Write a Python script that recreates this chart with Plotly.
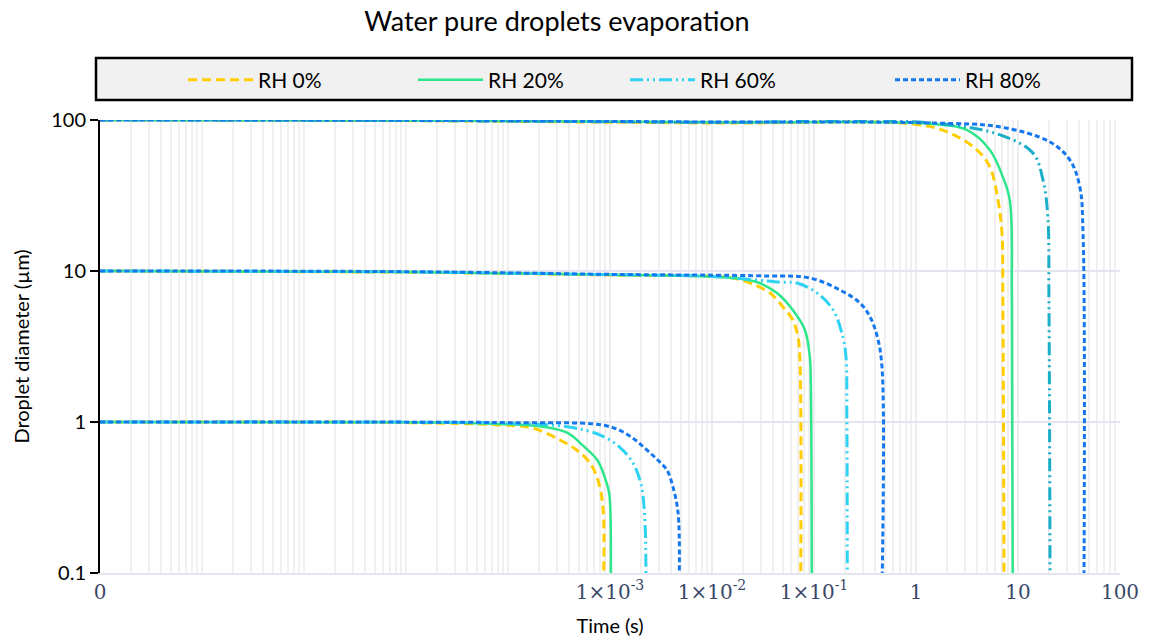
import plotly.graph_objects as go

# ---------------- data ----------------
# Time (s) and droplet diameter (µm) for each relative humidity / initial size
T_RH0_1 = [1e-8, 1e-5, 1e-4, 1.76e-4, 3.23e-4, 4.75e-4, 6.37e-4, 7.63e-4, 8.54e-4, 8.67e-4]
D_RH0_1 = [1.0, 0.99, 0.95, 0.91, 0.76, 0.65, 0.535, 0.41, 0.27, 0.1]
T_RH0_10 = [1e-8, 1e-5, 1e-3, 1.57e-2, 2.35e-2, 3.7e-2, 4.96e-2, 6.2e-2, 6.97e-2, 7.28e-2, 7.42e-2]
D_RH0_10 = [10, 9.8, 9.4, 9.0, 8.33, 7.15, 5.78, 4.73, 3.65, 2.57, 0.1]
T_RH0_100 = [1e-8, 1e-5, 1e-2, 1.02, 2.15, 3.96, 5.3, 6.36, 6.96, 7.1, 7.29]
D_RH0_100 = [100, 99, 95.5, 93.5, 82, 63.3, 48.9, 29.5, 17.9, 6.43, 0.1]

T_RH20_1 = [1e-8, 1e-5, 8.4e-5, 2.2e-4, 3.8e-4, 5.4e-4, 7.5e-4, 8.9e-4, 9.8e-4, 1.01e-3, 1.02e-3]
D_RH20_1 = [1.0, 0.995, 0.97, 0.93, 0.85, 0.70, 0.56, 0.43, 0.34, 0.25, 0.1]
T_RH20_10 = [1e-8, 1e-5, 1e-3, 1.6e-2, 2.76e-2, 4.34e-2, 6.2e-2, 8.15e-2, 9.1e-2, 9.3e-2, 9.5e-2]
D_RH20_10 = [10, 9.85, 9.45, 8.99, 8.45, 7.15, 5.52, 4.07, 2.69, 1.81, 0.1]
T_RH20_100 = [1e-8, 1e-5, 1e-2, 1.46, 3.15, 5.3, 7.1, 8.3, 8.7, 8.87]
D_RH20_100 = [100, 99.2, 96.5, 94.1, 85.9, 63.3, 42, 29.5, 6.43, 0.1]

T_RH60_1 = [1e-8, 1e-5, 1e-4, 3.8e-4, 8.0e-4, 1.25e-3, 1.68e-3, 1.97e-3, 2.11e-3, 2.22e-3, 2.25e-3]
D_RH60_1 = [1.0, 0.998, 0.98, 0.93, 0.82, 0.68, 0.535, 0.41, 0.32, 0.19, 0.1]
T_RH60_10 = [1e-8, 1e-5, 1e-3, 1e-2, 4.64e-2, 6.8e-2, 0.107, 0.154, 0.192, 0.206, 0.21, 0.212]
D_RH60_10 = [10, 9.85, 9.45, 9.2, 8.45, 8.33, 7.15, 5.52, 3.65, 2.69, 1.08, 0.1]
T_RH60_100 = [1e-8, 1e-5, 1e-2, 1.46, 6.7, 14.0, 17.6, 19.6, 20.1, 20.6]
D_RH60_100 = [100, 99.2, 96.5, 95.5, 79.6, 60.4, 40, 22.8, 6.43, 0.1]

T_RH80_1 = [1e-8, 1e-5, 1e-4, 8.0e-4, 1.25e-3, 1.68e-3, 2.1e-3, 2.64e-3, 3.1e-3, 3.62e-3, 4.15e-3, 4.65e-3, 4.78e-3]
D_RH80_1 = [1.0, 0.998, 0.99, 0.96, 0.88, 0.78, 0.69, 0.60, 0.54, 0.48, 0.37, 0.25, 0.1]
T_RH80_10 = [1e-8, 1e-5, 1e-3, 3.45e-2, 9.1e-2, 0.18, 0.282, 0.355, 0.418, 0.464, 0.467]
D_RH80_10 = [10, 9.9, 9.5, 9.27, 8.99, 7.48, 6.14, 4.96, 3.65, 2.32, 0.1]
T_RH80_100 = [1e-8, 1e-5, 1e-2, 1.46, 6.7, 20.6, 32.3, 40.4, 43.4, 44.4]
D_RH80_100 = [100, 99.5, 97, 95.5, 89.9, 71.5, 54.3, 36, 17.9, 0.1]

SERIES_NAMES = ["RH 0%", "RH 20%", "RH 60%", "RH 80%"]
X_TICK_VALS = [1e-8, 1e-3, 1e-2, 1e-1, 1, 10, 100]
X_TICK_TEXT = ["0", "1×10<sup>-3</sup>", "1×10<sup>-2</sup>", "1×10<sup>-1</sup>", "1", "10", "100"]
Y_TICK_VALS = [0.1, 1, 10, 100]
Y_TICK_TEXT = ["0.1", "1", "10", "100"]

# ---------------- styling ----------------
styles = {
    "RH 0%": dict(color="#FFCD00", dash="9px,5px", width=3),
    "RH 20%": dict(color="#2DE68A", dash="solid", width=2.5),
    "RH 60%": dict(color="#2ED2F2", dash="13px,4px,2px,4px,2px,4px", width=3),
    "RH 80%": dict(color="#1578EE", dash="5px,3px", width=3),
}
legend_ids = {"RH 0%": "legend", "RH 20%": "legend2", "RH 60%": "legend3", "RH 80%": "legend4"}

curves = [
    ("RH 0%", T_RH0_1, D_RH0_1, None), ("RH 0%", T_RH0_10, D_RH0_10, None), ("RH 0%", T_RH0_100, D_RH0_100, None),
    ("RH 20%", T_RH20_1, D_RH20_1, None), ("RH 20%", T_RH20_10, D_RH20_10, None), ("RH 20%", T_RH20_100, D_RH20_100, None),
    ("RH 60%", T_RH60_1, D_RH60_1, None), ("RH 60%", T_RH60_10, D_RH60_10, None), ("RH 60%", T_RH60_100, D_RH60_100, "#1AAEC9"),
    ("RH 80%", T_RH80_1, D_RH80_1, None), ("RH 80%", T_RH80_10, D_RH80_10, None), ("RH 80%", T_RH80_100, D_RH80_100, None),
]

fig = go.Figure()
shown = set()
for name, t, d, col in curves:
    st = styles[name]
    fig.add_trace(go.Scatter(
        x=t, y=d, mode="lines", name=name, legendgroup=name,
        legend=legend_ids[name],
        showlegend=name not in shown,
        line=dict(color=col or st["color"], dash=st["dash"], width=st["width"], shape="spline", smoothing=1.0),
        cliponaxis=True,
    ))
    shown.add(name)

# ---------------- layout ----------------
L, R, T, B = 100, 32, 120, 68
W, H = 1152, 641
pw, ph = W - L - R, H - T - B

def px_x(p):
    return (p - L) / pw

def px_y(p):
    return (H - B - p) / ph

SANS = "Lato, 'Open Sans', sans-serif"
legend_font = dict(family=SANS, size=21, color="#000")
ITEM_W = 65
text_starts = [258, 488, 700, 965]
layout_legends = {}
for lid, tx in zip(["legend", "legend2", "legend3", "legend4"], text_starts):
    layout_legends[lid] = dict(
        x=px_x(tx - 40 - (ITEM_W - 30)), y=px_y(80), xanchor="left", yanchor="middle",
        orientation="h", bgcolor="rgba(0,0,0,0)", borderwidth=0,
        font=legend_font, itemwidth=ITEM_W,
    )

minor_vals = [m * 10 ** e for e in range(-8, 2) for m in range(1, 10)]

fig.update_layout(
    width=W, height=H,
    margin=dict(l=L, r=R, t=T, b=B, autoexpand=False),
    paper_bgcolor="white", plot_bgcolor="white",
    font=dict(family=SANS, color="#000"),
    title=dict(text="Water pure droplets evaporation", x=557 / W, xref="container",
               y=1 - 22 / H, yref="container", xanchor="center", yanchor="middle",
               font=dict(family=SANS, size=27, color="#000")),
    **layout_legends,
    shapes=[dict(type="rect", xref="paper", yref="paper",
                 x0=px_x(96), x1=px_x(1132), y0=px_y(100), y1=px_y(58),
                 fillcolor="#F1F1F1", line=dict(color="#000", width=2.5), layer="below")],
)

fig.update_xaxes(
    type="log", range=[-8, 2], automargin=False,
    tickmode="array", tickvals=X_TICK_VALS, ticktext=X_TICK_TEXT,
    tickfont=dict(family="'DejaVu Serif', 'Liberation Serif', serif", size=20, color="#3A4868"),
    ticks="", showline=True, linecolor="#E3E6EE", linewidth=1.5,
    showgrid=True, gridcolor="#EDEDED", gridwidth=1.5,
    minor=dict(tickmode="array", tickvals=minor_vals, showgrid=True, gridcolor="#F0F0F0", gridwidth=1.5, ticks=""),
    zeroline=False,
    title=dict(text="Time (s)", font=dict(size=20, family=SANS), standoff=16),
)
fig.update_yaxes(
    type="log", range=[-1, 2], automargin=False,
    tickmode="array", tickvals=Y_TICK_VALS, ticktext=Y_TICK_TEXT,
    tickfont=dict(family=SANS, size=20, color="#000"),
    ticks="outside", ticklen=8, tickwidth=2, tickcolor="#000",
    showline=True, linecolor="#000", linewidth=2,
    showgrid=True, gridcolor="#E3E6EE", gridwidth=2,
    zeroline=False,
    title=dict(text="Droplet diameter (µm)", font=dict(size=20, family=SANS), standoff=16),
)

fig.write_html("out.html")
